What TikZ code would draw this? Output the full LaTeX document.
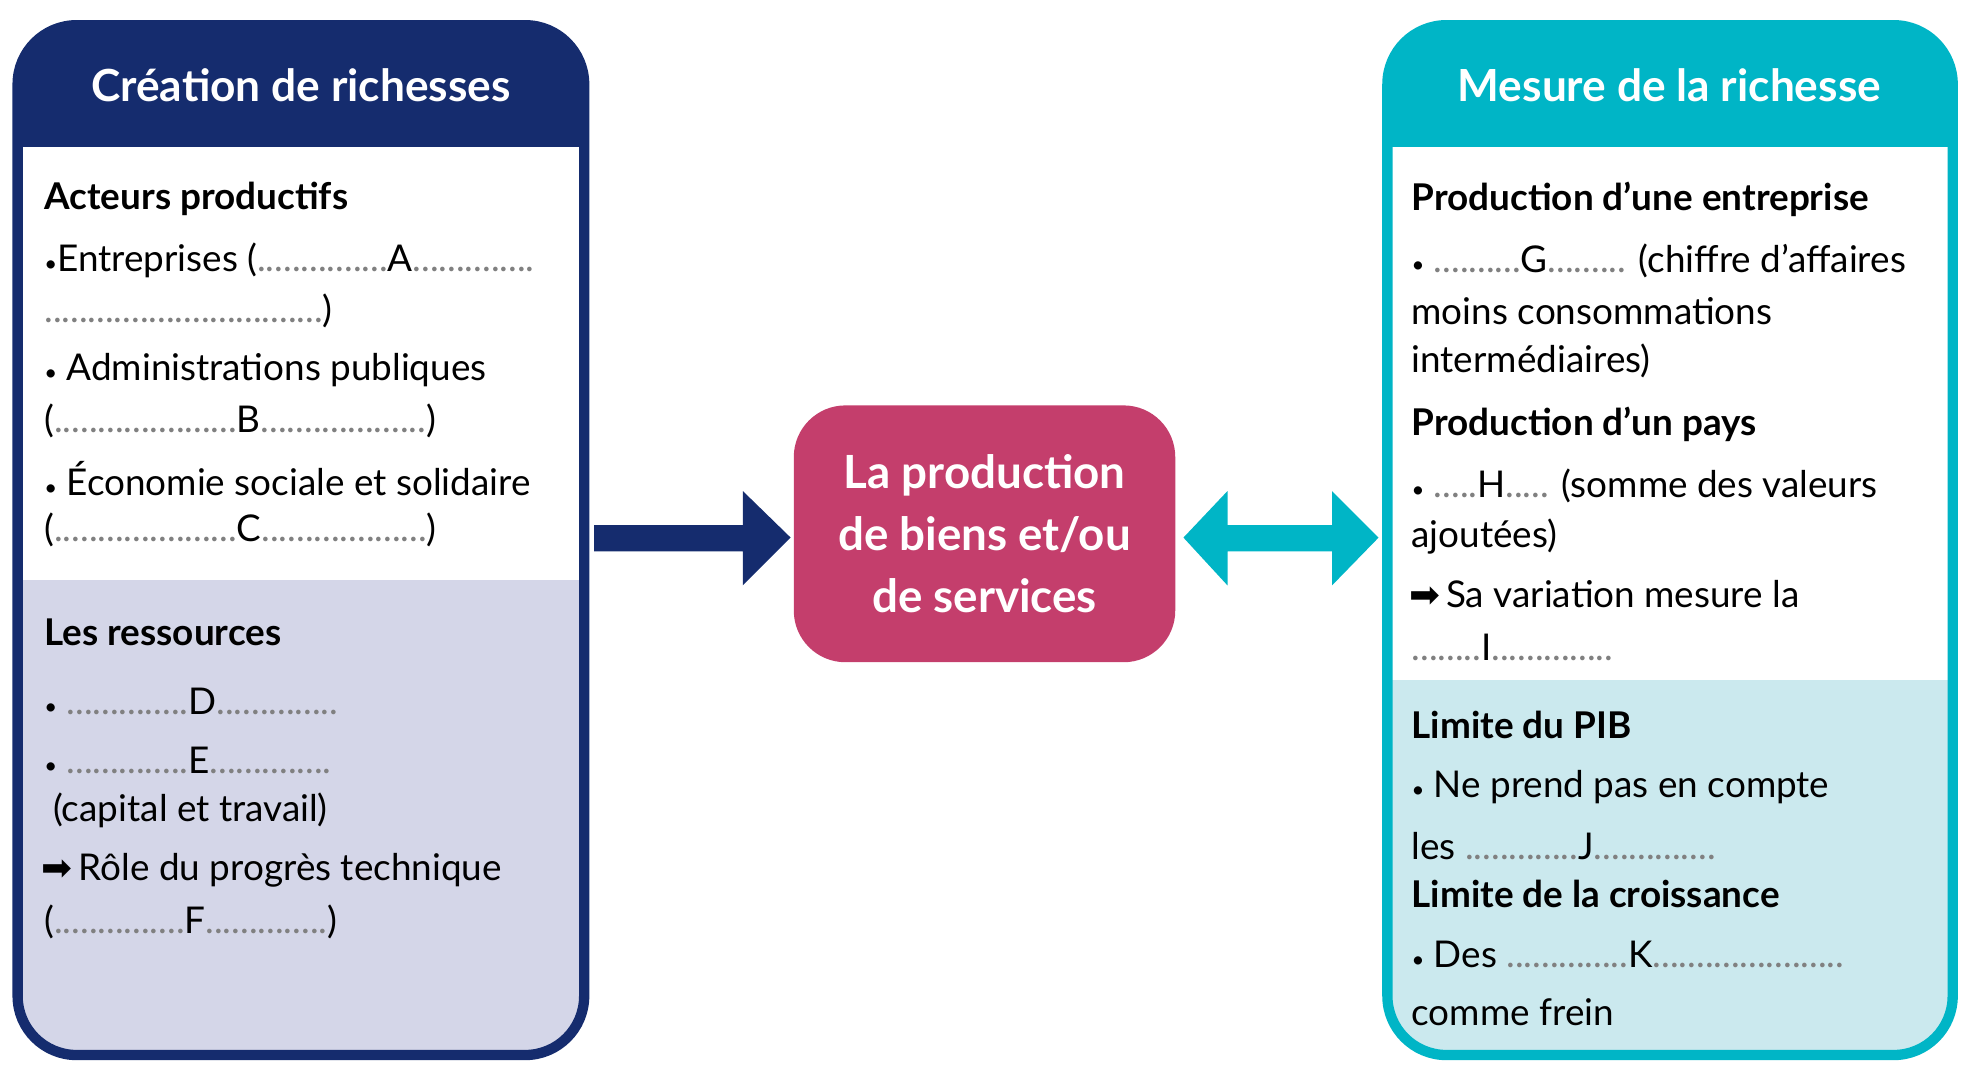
\documentclass[tikz,border=0pt]{standalone}
\usepackage{fontspec}
\setmainfont{Lato}
\newfontfamily\symfont{DejaVu Sans}
\usetikzlibrary{positioning}
\definecolor{navy}{HTML}{152C6E}
\definecolor{lavender}{HTML}{D4D6E8}
\definecolor{teal}{HTML}{00B5C6}
\definecolor{paleteal}{HTML}{CBE9EE}
\definecolor{rose}{HTML}{C43E6C}
\tikzset{
  line/.style = {anchor=west, inner sep=0pt, font=\fontsize{25}{29}\selectfont},
  title/.style = {line, font=\fontsize{25}{29}\selectfont\bfseries},
  header/.style = {text=white, font=\fontsize{30}{34}\selectfont\bfseries},
  panel/.style = {line width=7pt, draw=#1, rounded corners=40},
}
\newcommand{\dts}[1]{{\color{gray}#1}}
\newcommand{\bul}{{\fontsize{15}{15}\selectfont•}}
\newcommand{\arr}{{\symfont\char"27A1}}
\begin{document}
\begin{tikzpicture}[x=0.03cm,y=-0.03cm]
    \useasboundingbox (0,0) rectangle (1560,856);

    %==== Left panel ====
    \begin{scope}
        \clip[rounded corners=40] (14,20) rectangle (464,838);
        \fill[navy] (14,20) rectangle (464,117);
        \fill[white] (14,117) rectangle (464,461);
        \fill[lavender] (14,461) rectangle (464,838);
    \end{scope}
    \draw[panel=navy] (14,20) rectangle (464,838);
    \node[header] (hl) at (239,68) {Création de richesses};

    % Lines
    \node[title] (l1) at (35,158) {Acteurs productifs};
    \node[line] (l2) at (35,207) {\bul Entreprises (\dts{...............}A\dts{..............}};
    \node[line] (l3) at (35,247) {\dts{................................})};
    \node[line] (l4) at (35,294) {\bul\ Administrations publiques};
    \node[line] (l5) at (35,334) {(\dts{.....................}B\dts{...................})};
    \node[line] (l6) at (35,380) {\bul\ Économie sociale et solidaire};
    \node[line] (l7) at (35,421) {(\dts{.....................}C\dts{...................})};
    \node[title] (l8) at (35,502) {Les ressources};
    \node[line] (l9) at (35,557) {\bul\ \dts{..............}D\dts{..............}};
    \node[line] (l10) at (35,604) {\bul\ \dts{..............}E\dts{..............}};
    \node[line] (l11) at (42,644) {(capital et travail)};
    \node[line] (l12) at (33,691) {\arr\,Rôle du progrès technique};
    \node[line] (l13) at (35,732) {(\dts{...............}F\dts{..............})};

    %==== Centre ====
    \node[fill=rose, rounded corners=35, minimum width=303*0.03cm, minimum height=204*0.03cm,
          text=white, align=center, font=\fontsize{31}{42}\selectfont\bfseries] (prod) at (782,424)
          {La production\\de biens et/ou\\de services};

    % Arrows
    \fill[navy] (472,417) -- (590,417) -- (590,390) -- (628,427) -- (590,465) -- (590,438) -- (472,438) -- cycle;
    \fill[teal] (940,427) -- (975,390) -- (975,417) -- (1058,417) -- (1058,390) -- (1095,427)
        -- (1058,465) -- (1058,438) -- (975,438) -- (975,465) -- cycle;

    %==== Right panel ====
    \begin{scope}
        \clip[rounded corners=40] (1102,20) rectangle (1551,838);
        \fill[teal] (1102,20) rectangle (1551,117);
        \fill[white] (1102,117) rectangle (1551,540);
        \fill[paleteal] (1102,540) rectangle (1551,838);
    \end{scope}
    \draw[panel=teal] (1102,20) rectangle (1551,838);
    \node[header] (hr) at (1326,68) {Mesure de la richesse};

    % Lines
    \node[title] (r1) at (1121,158) {Production d’une entreprise};
    \node[line] (r2) at (1121,207) {\bul\ \dts{..........}G\dts{.........} (chiffre d’affaires};
    \node[line] (r3) at (1121,247) {moins consommations};
    \node[line] (r4) at (1121,287) {intermédiaires)};
    \node[title] (r5) at (1121,337) {Production d’un pays};
    \node[line] (r6) at (1121,386) {\bul\ \dts{.....}H\dts{.....} (somme des valeurs};
    \node[line] (r7) at (1121,426) {ajoutées)};
    \node[line] (r8) at (1119,472) {\arr\,Sa variation mesure la};
    \node[line] (r9) at (1121,514) {\dts{........}I\dts{..............}};
    \node[title] (r10) at (1121,576) {Limite du PIB};
    \node[line] (r11) at (1121,625) {\bul\ Ne prend pas en compte};
    \node[line] (r12) at (1121,672) {les \dts{.............}J\dts{..............}};
    \node[title] (r13) at (1121,710) {Limite de la croissance};
    \node[line] (r14) at (1121,758) {\bul\ Des \dts{..............}K\dts{......................}};
    \node[line] (r15) at (1121,804) {comme frein};
\end{tikzpicture}
\end{document}
